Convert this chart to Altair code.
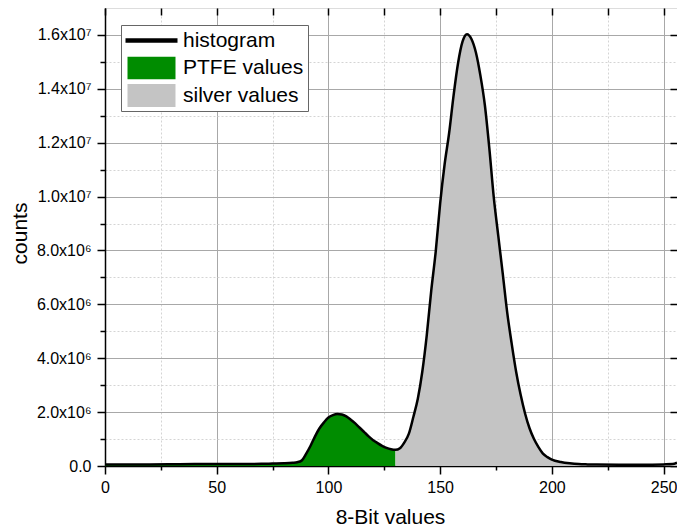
import altair as alt
import pandas as pd

# ---- data ----
bins = [0, 10, 20, 30, 40, 50, 60, 70, 75, 80, 84, 86, 88, 90, 92, 94, 96, 98,
        100, 102, 104, 106, 108, 110, 112, 114, 116, 118, 120, 122, 124, 126, 128,
        130, 132, 134, 136, 138, 140, 142, 144, 146, 148, 150, 152, 154, 156, 158,
        160, 162, 164, 166, 168, 170, 172, 174, 176, 178, 180, 182, 184, 186, 188,
        190, 192, 194, 196, 198, 200, 204, 208, 212, 216, 220, 230, 240, 250, 254, 256]
counts_millions = [0.06, 0.06, 0.06, 0.065, 0.07, 0.07, 0.075, 0.08, 0.09, 0.10, 0.12, 0.14, 0.20,
                   0.45, 0.75, 1.10, 1.40, 1.62, 1.80, 1.89, 1.93, 1.91, 1.84, 1.72, 1.58, 1.42,
                   1.26, 1.10, 0.96, 0.85, 0.75, 0.67, 0.62, 0.60, 0.66, 0.88, 1.20, 1.82, 2.50,
                   3.50, 4.85, 6.50, 7.95, 9.75, 11.20, 12.35, 13.75, 14.95, 15.75, 16.03, 15.85,
                   15.35, 14.50, 13.40, 11.80, 9.97, 8.55, 7.15, 5.70, 4.55, 3.50, 2.65, 1.95,
                   1.40, 1.00, 0.70, 0.46, 0.33, 0.24, 0.15, 0.10, 0.07, 0.06, 0.055, 0.05,
                   0.05, 0.06, 0.07, 0.12]
split_value = 130

x_ticks = list(range(0, 251, 25))
y_ticks = [i * 1000000 for i in range(0, 17)]
y_major = [0, 2000000, 4000000, 6000000, 8000000, 10000000, 12000000, 14000000, 16000000]
y_labels = ["0.0", "2.0x10\u2076", "4.0x10\u2076", "6.0x10\u2076", "8.0x10\u2076",
            "1.0x10\u2077", "1.2x10\u2077", "1.4x10\u2077", "1.6x10\u2077"]

legend_names = ["histogram", "PTFE values", "silver values"]
legend_colors = ["#000000", "#008C00", "#C4C4C4"]
legend_shapes = ["M-1,-0.09H1V0.09H-1Z",
                 "M-0.923,-0.442H0.923V0.442H-0.923Z",
                 "M-0.923,-0.442H0.923V0.442H-0.923Z"]

FONT = "Liberation Sans"

df = pd.DataFrame({"x": bins, "y": [v * 1e6 for v in counts_millions]})
legend_df = pd.DataFrame({"series": legend_names})

y_expr = "''"
for v, lab in reversed(list(zip(y_major, y_labels))):
    y_expr = f"datum.value == {v} ? '{lab}' : {y_expr}"

x_major_test = "datum.value % 50 == 0"
y_major_test = "datum.value % 2000000 == 0"

x_scale = alt.Scale(domain=[0, 256], nice=False, zero=False)
y_scale = alt.Scale(domain=[0, 17000000], nice=False)

x_axis = alt.Axis(
    values=x_ticks, title="8-Bit values",
    labelExpr=f"{x_major_test} ? datum.label : ''",
    tickSize={"condition": {"test": x_major_test, "value": 8}, "value": 4},
    gridDash={"condition": {"test": x_major_test, "value": []}, "value": [2, 2]},
    gridColor={"condition": {"test": x_major_test, "value": "#a8a8a8"}, "value": "#d4d4d4"},
    gridWidth=1, labelPadding=5, labelFontSize=16, labelFont=FONT, labelColor="black",
    titleFont=FONT, titleFontSize=21, titleFontWeight="normal", titleColor="black",
    titleBaseline="alphabetic", titleX=285, titleY=57,
    domainColor="black", domainWidth=1.5, tickColor="black", tickWidth=1.5,
    labelFlush=False, labelOverlap=False,
)
y_axis = alt.Axis(
    values=y_ticks, title="counts", labelExpr=y_expr,
    tickSize={"condition": {"test": y_major_test, "value": 8}, "value": 5},
    gridDash={"condition": {"test": y_major_test, "value": []}, "value": [2, 2]},
    gridColor={"condition": {"test": y_major_test, "value": "#a8a8a8"}, "value": "#d4d4d4"},
    gridWidth=1, labelPadding=6, labelFontSize=16, labelFont=FONT, labelColor="black",
    titleFont=FONT, titleFontSize=21, titleFontWeight="normal", titleColor="black",
    titleBaseline="alphabetic", titleX=-79, titleY=225, titleAngle=270,
    domainColor="black", domainWidth=1.5, tickColor="black", tickWidth=1.5,
    labelFlush=False, labelOverlap=False,
)
x_axis_top = alt.Axis(orient="top", values=x_ticks, labels=False, domain=False, grid=False,
                      tickSize=7, offset=-7, tickColor="black", tickWidth=1.5, title=None)
y_axis_right = alt.Axis(orient="right", values=y_major, labels=False, domain=False, grid=False,
                        tickSize=7, offset=-7, tickColor="black", tickWidth=1.5, title=None)

base = alt.Chart(df)

ptfe = base.transform_filter(f"datum.x <= {split_value}").mark_area(
    color="#008C00", interpolate="monotone"
).encode(
    x=alt.X("x:Q", scale=x_scale, axis=x_axis),
    y=alt.Y("y:Q", scale=y_scale, axis=y_axis),
)
silver = base.transform_filter(f"datum.x >= {split_value}").mark_area(
    color="#C4C4C4", interpolate="monotone"
).encode(
    x=alt.X("x:Q", scale=x_scale, axis=None),
    y=alt.Y("y:Q", scale=y_scale, axis=None),
)
line = base.mark_line(color="black", strokeWidth=2.5, interpolate="monotone").encode(
    x=alt.X("x:Q", scale=x_scale, axis=None),
    y=alt.Y("y:Q", scale=y_scale, axis=None),
)
mirror = base.mark_line(opacity=0).encode(
    x=alt.X("x:Q", scale=x_scale, axis=x_axis_top),
    y=alt.Y("y:Q", scale=y_scale, axis=y_axis_right),
)

leg = alt.Legend(
    orient="none", legendX=16, legendY=17, title=None,
    symbolSize=2704, symbolStrokeColor="#444444", symbolStrokeWidth=1, symbolOpacity=1,
    labelFontSize=21, labelFont=FONT, labelColor="black", labelOffset=5, labelLimit=0,
    strokeColor="#666666", fillColor="white", padding=4, rowPadding=4.5, clipHeight=23,
)
legend_layer = alt.Chart(legend_df).mark_point(filled=True, opacity=0).encode(
    x=alt.value(0), y=alt.value(0),
    color=alt.Color("series:N", scale=alt.Scale(domain=legend_names, range=legend_colors), legend=leg),
    shape=alt.Shape("series:N", scale=alt.Scale(domain=legend_names, range=legend_shapes), legend=leg),
)

chart = alt.layer(ptfe, silver, line, mirror, legend_layer).resolve_axis(
    x="independent", y="independent"
).properties(
    width=572, height=458,
    padding={"left": 97, "top": 0, "right": 0, "bottom": 62},
    autosize=alt.AutoSizeParams(type="none"),
).configure_view(stroke="black", strokeWidth=1.5).configure(background="white")

chart.save("out.html", embed_options={"renderer": "svg", "actions": False})
